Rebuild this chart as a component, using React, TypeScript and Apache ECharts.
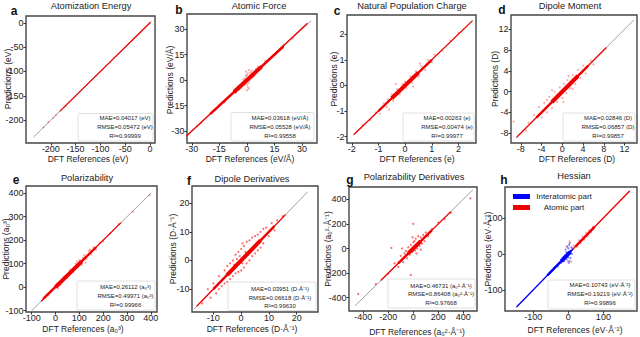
import React, { useEffect, useRef } from 'react';
import * as echarts from 'echarts';

const FONT = '"Liberation Sans", Arial, Helvetica, sans-serif';

// ---------- tick labels ----------
const aTicks = [-200, -150, -100, -50, 0];
const bTicks = [-30, -15, 0, 15, 30];
const cTicks = [-2, -1, 0, 1, 2];
const dTicks = [-8, -4, 0, 4, 8, 12];
const eTicks = [-100, 0, 100, 200, 300, 400];
const fTicks = [-10, 0, 10, 20];
const gTicks = [-400, -200, 0, 200, 400];
const hTicks = [-100, 0, 100];

// ---------- titles / labels ----------
const titles = ['Atomization Energy', 'Atomic Force', 'Natural Population Charge', 'Dipole Moment', 'Polarizability', 'Dipole Derivatives', 'Polarizability Derivatives', 'Hessian'];
const letters = ['a', 'b', 'c', 'd', 'e', 'f', 'g', 'h'];
const units = ['(eV)', '(eV/Å)', '(e)', '(D)', '(a₀³)', '(D·Å⁻¹)', '(a₀²·Å⁻¹)', '(eV·Å⁻²)'];
const maeVals = ['0.04017', '0.03618', '0.00263', '0.02846', '0.26112', '0.03951', '0.46731', '0.10743'];
const rmseVals = ['0.05472', '0.05528', '0.00474', '0.06857', '0.49971', '0.06618', '0.86408', '0.19219'];
const r2Vals = ['0.99999', '0.99558', '0.99977', '0.99857', '0.99966', '0.99630', '0.97668', '0.99896'];
const legendNames = ['Interatomic part', 'Atomic part'];

// ---------- data ----------
// y = x reference lines
const aDiag = [[-235, -235], [3, 3]];
const bDiag = [[-34, -34], [35, 35]];
const cDiag = [[-1.95, -1.95], [2.55, 2.55]];
const dDiag = [[-9, -9], [13.8, 13.8]];
const eDiag = [[-100, -100], [400, 400]];
const fDiag = [[-17, -17], [24, 24]];
const gDiag = [[-466, -466], [476, 476]];
const hDiag = [[-150, -150], [178, 178]];

// dense cores of the point clouds (outer to inner)
const aBands = [[[-182, -182], [1, 1]]];
const bBands = [[[-33, -33], [33, 33.5]], [[-20, -20], [20, 20]], [[-7, -7], [8, 8]]];
const cBands = [[[-1.92, -1.92], [2.52, 2.52]], [[-1, -1], [1, 1]], [[-0.5, -0.5], [0.5, 0.5]]];
const dBands = [[[-8.8, -8.8], [8.5, 8.5]], [[-5, -5], [5, 5]], [[-2, -2], [3, 3]]];
const eBands = [[[-60, -60], [275, 275]], [[-50, -48], [170, 170]], [[0, 0], [110, 110]]];
const fBands = [[[-16, -16], [16, 16]], [[-10, -10], [12, 12]], [[-5, -5], [7, 7]]];
const gBands = [[[-260, -260], [300, 300]], [[-120, -120], [150, 150]], [[-40, -40], [60, 60]]];
const hRedBands = [[[10, 10], [175, 175]], [[20, 20], [75, 75]]];
const hBlueBands = [[[-148, -148], [12, 12]], [[-60, -60], [8, 8]], [[-20, -20], [5, 5]]];

// scattered points
const aPts = [[-190, -190], [-195, -195.5], [-205, -204], [-215, -215], [-170, -170.5]];
const bPts = [[0, 3], [0.5, 4], [-0.5, 2.5], [1, -1.5], [-1, 1], [0, -2.5], [2, 4.5], [1.5, 0], [-1.5, -3], [0.5, -4], [-2, 0.5], [3, 1.5], [2.5, 5.5], [-0.5, 5], [1, 6], [-3, -4.5], [4, 2.5], [5, 6.5], [-4, -5.5], [0, -6], [1, -5], [6, 8], [-6, -7.5], [10, 11.5], [12, 12.5], [-12, -13], [20, 21], [25, 24.5], [-15, -14.5], [30, 30.5], [-25, -25.5]];
const cPts = [[-1.6, -1.55], [-1.3, -1.35], [-1.1, -1.05], [-0.95, -1.1], [-0.8, -0.7], [-0.65, -0.55], [-0.7, -0.85], [-0.5, -0.35], [-0.45, -0.6], [-0.3, -0.15], [-0.2, -0.35], [-0.1, 0.05], [0, 0.15], [0.05, -0.1], [0.2, 0.35], [0.25, 0.1], [0.4, 0.55], [0.5, 0.35], [0.6, 0.75], [0.75, 0.6], [0.85, 1.0], [1.0, 0.9], [1.1, 1.2], [1.4, 1.35], [1.7, 1.75], [2.0, 2.05], [-0.6, -0.95], [0.3, -0.05], [-0.35, 0.05], [0.55, 0.85]];
const dPts = [[-9.4, -5.8], [-6.5, -6], [-5.5, -4.5], [-4.5, -3], [-4, -5], [-3.5, -2.2], [-3, -4], [-2.5, -1], [-2, -3.2], [-1.5, 0], [-1, -2], [-0.5, 0.8], [0, -1.2], [0.3, 1.5], [0.8, -0.3], [1, 2.2], [1.5, 0.6], [2, 3.2], [2.5, 1.5], [3, 4.2], [3.5, 2.6], [4, 5], [4.5, 3.5], [5.5, 6], [6, 5.2], [-7, -7.5], [-2, 0.3], [1.2, 3], [-3, -1.6], [0.2, -2], [2, 0.5]];
const ePts = [[-55, -50], [-20, -15], [5, 15], [20, 10], [35, 45], [50, 40], [60, 75], [75, 65], [85, 100], [95, 85], [100, 115], [110, 95], [120, 135], [130, 120], [140, 155], [150, 140], [160, 170], [170, 160], [185, 190], [200, 195], [230, 228], [265, 268], [325, 322], [395, 392], [90, 110], [115, 125], [125, 105], [145, 160], [-30, -35], [10, -5]];
const fPts = [[-14, -15], [-12, -10], [-11, -13], [-10, -8], [-9, -11.5], [-8, -5.5], [-8, -10], [-7, -9], [-6, -3.5], [-6, -8], [-5, -2], [-5, -7.5], [-4, -1], [-4, -6.5], [-3, 0], [-3, -5.5], [-2, 2], [-2, -4.5], [-1, 3], [-1, -4], [0, 4], [0, -3.5], [0.5, 6], [1, 5], [1, -2.5], [2, 6.5], [2, -1], [3, 7], [3, 0], [4, 8], [4, 1.5], [5, 8.5], [5, 2.5], [6, 9], [6, 3.5], [7, 10], [7, 4.5], [8, 11], [8, 6], [9, 11.5], [10, 8.5], [11, 13], [12, 10.5], [13, 14], [15, 15.5], [-0.5, 1.5], [0.5, -1], [1.5, 3], [-1.5, 0.5], [2.5, 2], [-2.5, -1.5]];
const gPts = [[-100, -60], [-80, -110], [-60, -20], [-50, -80], [-40, 10], [-30, -50], [-20, 30], [-10, -30], [0, 50], [0, -20], [10, 60], [15, -15], [20, 80], [30, 0], [40, 100], [50, 20], [60, 90], [70, 40], [80, 110], [90, 60], [100, 130], [-70, -40], [-120, -150], [-150, -120], [120, 100], [150, 160], [-5, 90], [25, -40], [0, 200], [-175, 5], [-20, -215], [-440, -370], [458, 408], [250, 240], [-200, -205], [300, 290], [200, 210], [-300, -290], [-90, 0], [60, -10]];
const hRedPts = [[15, 22], [25, 20], [30, 38], [35, 30], [40, 48], [45, 40], [50, 58], [55, 50], [60, 66], [65, 60], [70, 75], [-2, -20], [3, 35], [8, -22], [-5, 20]];
const hBluePts = [[-10, -5], [-8, 12], [-5, -15], [-3, 20], [0, -10], [0, 15], [2, 25], [3, -20], [5, 8], [6, -12], [8, 18], [10, 0], [-12, -20], [-6, 5], [1, -25], [4, 30], [-2, 2], [12, 15], [-15, -10], [-20, -25], [-30, -35], [-40, -38]];

// ---------- layout (pixel positions) ----------
const layout = [
  { grid: [26, 16, 129, 127], x: [-250, 10], y: [-247, 14], ticksX: aTicks, ticksY: aTicks, title: [91, 6], letter: [14, 11], xName: [88, 159], yName: [8, 79], box: [78, 113.5, 75, 27.5], sx: 125, sy: [118.3, 126.7, 135.5] },
  { grid: [187, 14, 130, 129], x: [-32.6, 38.2], y: [-37, 39], ticksX: bTicks, ticksY: bTicks, title: [259, 6], letter: [179, 10], xName: [250, 159], yName: [170, 80], box: [231, 112.5, 83, 28.5], sx: 280, sy: [117.7, 126.7, 135.7] },
  { grid: [347, 15, 129, 128], x: [-2.18, 2.66], y: [-2.25, 2.75], ticksX: cTicks, ticksY: cTicks, title: [412, 6], letter: [337, 11], xName: [417, 159], yName: [334, 79], box: [403, 113, 71, 28], sx: 447, sy: [118.3, 126.7, 135.7] },
  { grid: [511, 15, 126, 128], x: [-9.9, 14.4], y: [-9.9, 14.75], ticksX: dTicks, ticksY: dTicks, title: [570, 6], letter: [502, 10], xName: [577, 159], yName: [495, 79], box: [563, 113, 72, 28], sx: 608, sy: [118.3, 126.7, 135.7] },
  { grid: [26, 186, 131, 126], x: [-124, 426], y: [-106, 431], ticksX: eTicks, ticksY: eTicks, title: [87, 178], letter: [16, 180], xName: [83, 328.5], yName: [6, 249], box: [77, 281, 78, 29], sx: 125.5, sy: [287, 296, 304.5] },
  { grid: [192, 186, 126, 126], x: [-17.7, 27.7], y: [-18, 26], ticksX: fTicks, ticksY: fTicks, title: [252, 179], letter: [189, 181], xName: [252, 329], yName: [173, 249], box: [228, 282, 88, 28.5], sx: 280, sy: [289.3, 297.7, 305.7] },
  { grid: [349, 187, 128, 124], x: [-514, 510], y: [-508, 500], ticksX: gTicks, ticksY: gTicks, title: [414, 177], letter: [350, 180], xName: [417, 332], yName: [328, 249], box: [388, 279, 87, 29], sx: 441, sy: [285.7, 294, 303.3] },
  { grid: [505, 187, 132, 124], x: [-181, 196], y: [-159, 186], ticksX: hTicks, ticksY: hTicks, title: [574, 176], letter: [504, 180], xName: [575, 330], yName: [488, 249], box: [548, 280, 87, 29], sx: 600, sy: [284.5, 294, 303] },
];

const diags = [aDiag, bDiag, cDiag, dDiag, eDiag, fDiag, gDiag, hDiag];
const redBands = [aBands, bBands, cBands, dBands, eBands, fBands, gBands, hRedBands];
const redPts = [aPts, bPts, cPts, dPts, ePts, fPts, gPts, hRedPts];

const BAND_W = [1.3, 2.4, 4];
const RED = '#f00000';
const BLUE = '#0000ff';

function txt(x: number, y: number, text: string, size: number, opts: any = {}) {
  return {
    type: 'text', x, y, rotation: opts.rotation || 0, z: 100,
    style: {
      text, fontSize: size, fontFamily: FONT, fontWeight: opts.bold ? 'bold' : 'normal',
      fill: opts.color || '#222',
      textAlign: opts.align || 'center', align: opts.align || 'center',
      textVerticalAlign: 'middle', verticalAlign: 'middle',
    },
  };
}

function buildOption() {
  const grids: any[] = [];
  const xAxes: any[] = [];
  const yAxes: any[] = [];
  const series: any[] = [];
  const graphics: any[] = [];

  layout.forEach((L, i) => {
    grids.push({ left: L.grid[0], top: L.grid[1], width: L.grid[2], height: L.grid[3], show: true, borderColor: '#454545', borderWidth: 1.4, containLabel: false });
    const axisCommon = (ticks: number[], isX: boolean) => ({
      type: 'value', gridIndex: i,
      position: isX ? 'bottom' : 'left',
      axisLine: { show: false, onZero: false },
      splitLine: { show: false },
      axisTick: { show: true, customValues: ticks, length: 2.5, lineStyle: { color: '#333', width: 1 } },
      axisLabel: { customValues: ticks, fontSize: 9, fontFamily: FONT, color: '#222', margin: isX ? 1.5 : 2.5 },
    });
    xAxes.push({ ...axisCommon(L.ticksX, true), min: L.x[0], max: L.x[1] });
    yAxes.push({ ...axisCommon(L.ticksY, false), min: L.y[0], max: L.y[1] });

    series.push({ type: 'line', xAxisIndex: i, yAxisIndex: i, data: diags[i], symbol: 'none', lineStyle: { color: '#8a8a8a', width: 0.8 }, z: 1, silent: true });

    const addBands = (bands: number[][][], color: string, z: number) => {
      bands.forEach((b, k) => {
        series.push({ type: 'line', xAxisIndex: i, yAxisIndex: i, data: b, symbol: 'none', lineStyle: { color, width: BAND_W[k] }, z, silent: true });
      });
    };
    const addPts = (pts: number[][], color: string, z: number) => {
      series.push({ type: 'scatter', xAxisIndex: i, yAxisIndex: i, data: pts, symbolSize: 2, itemStyle: { color }, z, silent: true });
    };
    addBands(redBands[i], RED, 2);
    addPts(redPts[i], i === 5 || i === 6 ? 'rgba(255,0,0,0.75)' : 'rgba(255,0,0,0.45)', 3);
    if (i === 7) {
      addBands(hBlueBands, BLUE, 4);
      addPts(hBluePts, 'rgba(0,0,255,0.6)', 5);
    }

    // texts
    graphics.push(txt(L.title[0], L.title[1], titles[i], 9.3));
    graphics.push(txt(L.letter[0], L.letter[1], letters[i], 12, { bold: true, color: '#111' }));
    graphics.push(txt(L.xName[0], L.xName[1], 'DFT References ' + units[i], 8.5));
    graphics.push(txt(L.yName[0], L.yName[1], 'Predictions ' + units[i], 8.5, { rotation: Math.PI / 2 }));
    graphics.push({ type: 'rect', z: 90, shape: { x: L.box[0], y: L.box[1], width: L.box[2], height: L.box[3], r: 1 }, style: { fill: 'rgba(255,255,255,0.85)', stroke: '#d8d8d8', lineWidth: 0.8 } });
    graphics.push(txt(L.sx, L.sy[0], 'MAE=' + maeVals[i] + ' ' + units[i], 6));
    graphics.push(txt(L.sx, L.sy[1], 'RMSE=' + rmseVals[i] + ' ' + units[i], 6));
    graphics.push(txt(L.sx, L.sy[2], 'R²=' + r2Vals[i], 6));
  });

  // legend of panel h
  graphics.push({ type: 'rect', z: 100, shape: { x: 513, y: 194, width: 17, height: 5 }, style: { fill: BLUE } });
  graphics.push({ type: 'rect', z: 100, shape: { x: 513, y: 205, width: 17, height: 5 }, style: { fill: RED } });
  graphics.push(txt(564, 196.5, legendNames[0], 8));
  graphics.push(txt(564, 207.5, legendNames[1], 8));

  return {
    animation: false,
    backgroundColor: '#ffffff',
    textStyle: { fontFamily: FONT },
    grid: grids,
    xAxis: xAxes,
    yAxis: yAxes,
    series,
    graphic: graphics,
  };
}

export default function App() {
  const ref = useRef<HTMLDivElement>(null);
  useEffect(() => {
    if (!ref.current) return;
    const chart = echarts.init(ref.current, undefined, { renderer: 'svg' });
    chart.setOption(buildOption() as any);
    return () => chart.dispose();
  }, []);
  return <div ref={ref} style={{ position: 'fixed', left: 0, top: 0, width: 640, height: 337, background: '#fff' }} />;
}
